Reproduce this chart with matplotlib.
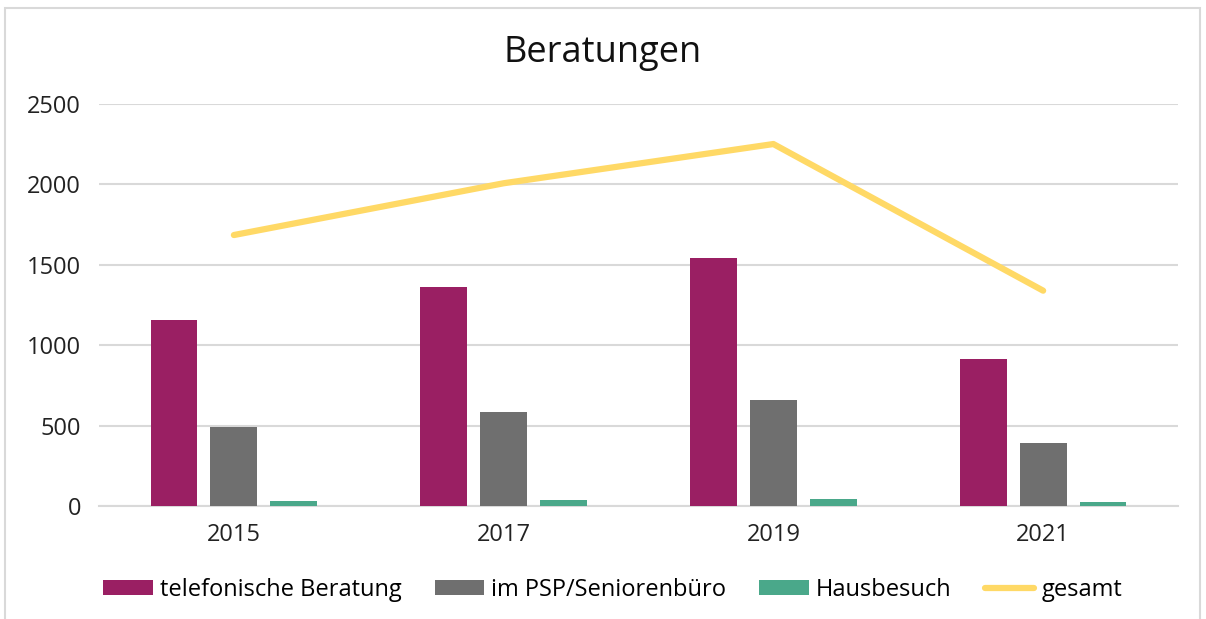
import numpy as np
import matplotlib
matplotlib.use('Agg')
import matplotlib.pyplot as plt
from matplotlib.patches import Rectangle

plt.rcParams['font.family'] = ['Open Sans', 'DejaVu Sans']

years = ['2015', '2017', '2019', '2021']
telefonisch = [1155, 1364, 1542, 916]
psp_buero = [493, 583, 659, 392]
hausbesuch = [30, 37, 42, 23]
gesamt = [1685, 2007, 2251, 1339]

fig = plt.figure(figsize=(12.06, 6.19), dpi=100)
ax = fig.add_axes([0.0821, 0.1826, 0.8947, 0.6494])

x = np.arange(len(years))
w = 0.174
off = 0.222
ax.bar(x - off, telefonisch, width=w, color='#9a1f63',
       label='telefonische Beratung', zorder=3)
ax.bar(x, psp_buero, width=w, color='#6f6f6f',
       label='im PSP/Seniorenbüro', zorder=3)
ax.bar(x + off, hausbesuch, width=w, color='#4aa88a',
       label='Hausbesuch', zorder=3)
ax.plot(x, gesamt, color='#ffd966', lw=4.5, solid_capstyle='round',
        label='gesamt', zorder=4)

ax.set_xlim(-0.5, len(years) - 0.5)
ax.set_ylim(0, 2500)
ax.set_yticks(range(0, 2501, 500))
ax.set_xticks(x)
ax.set_xticklabels(years)
ax.tick_params(length=0, labelsize=17, colors='#222222')
ax.tick_params(axis='y', pad=13)
ax.tick_params(axis='x', pad=12)
ax.grid(axis='y', color='#d9d9d9', lw=1.5, zorder=0)
for side in ['top', 'right', 'left']:
    ax.spines[side].set_visible(False)
ax.spines['bottom'].set_color('#d9d9d9')
ax.spines['bottom'].set_linewidth(1.5)

fig.text(0.5, 0.915, 'Beratungen', ha='center', va='center',
         fontsize=26, color='#111111')

handles, labels = ax.get_legend_handles_labels()
order = [1, 2, 3, 0]
fig.legend([handles[i] for i in order], [labels[i] for i in order],
           loc='center', bbox_to_anchor=(0.508, 0.047), ncol=4,
           frameon=False, fontsize=17, handlelength=2.1,
           handleheight=0.6, handletextpad=0.3, columnspacing=1.4)

# light frame around the chart
fig.add_artist(Rectangle((5 / 1206, -0.05), 1195 / 1206, 1.05 - 8 / 619,
                         transform=fig.transFigure, fill=False,
                         edgecolor='#d9d9d9', lw=1.5))

fig.savefig('out.png', dpi=100)
